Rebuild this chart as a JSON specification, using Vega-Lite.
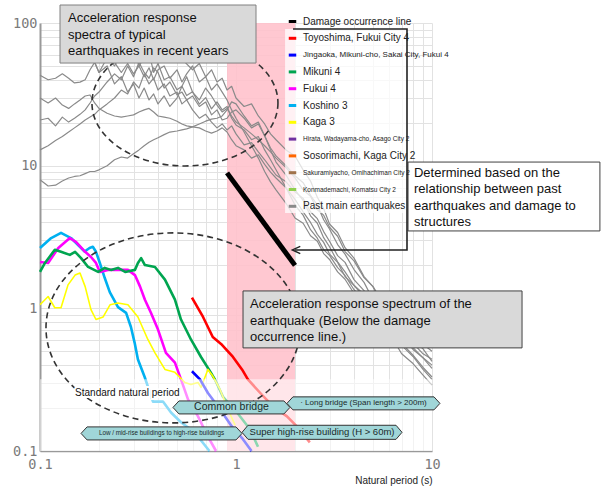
{
"$schema":"https://vega.github.io/schema/vega-lite/v6.json",
"width":392,"height":428,
"autosize":{"type":"none"},
"padding":{"left":40,"top":23,"right":169,"bottom":37},
"config":{"view":{"stroke":null},"font":"Liberation Sans"},
"datasets":{
"gray":[
{"id":1,"x":0.1,"y":43},{"id":1,"x":0.11,"y":40},{"id":1,"x":0.12,"y":41},{"id":1,"x":0.13,"y":44},{"id":1,"x":0.14,"y":41},{"id":1,"x":0.15,"y":38},{"id":1,"x":0.16,"y":38.5},{"id":1,"x":0.17,"y":40},{"id":1,"x":0.18,"y":47},{"id":1,"x":0.19,"y":53},{"id":1,"x":0.2,"y":45},{"id":1,"x":0.22,"y":57},{"id":1,"x":0.24,"y":50},{"id":1,"x":0.26,"y":62},{"id":1,"x":0.28,"y":53},{"id":1,"x":0.3,"y":67},{"id":1,"x":0.32,"y":50},{"id":1,"x":0.34,"y":57},{"id":1,"x":0.36,"y":62},{"id":1,"x":0.38,"y":45},{"id":1,"x":0.4,"y":52},{"id":1,"x":0.43,"y":40},{"id":1,"x":0.46,"y":42},{"id":1,"x":0.5,"y":34},{"id":1,"x":0.53,"y":36},{"id":1,"x":0.56,"y":31},{"id":1,"x":0.6,"y":33},{"id":1,"x":0.65,"y":27},{"id":1,"x":0.7,"y":30},{"id":1,"x":0.75,"y":25},{"id":1,"x":0.8,"y":28},{"id":1,"x":0.85,"y":24.6},{"id":1,"x":0.9,"y":26},{"id":1,"x":0.95,"y":21.5},{"id":1,"x":1.0,"y":19.3},{"id":1,"x":1.1,"y":17.8},{"id":1,"x":1.2,"y":15.2},{"id":1,"x":1.3,"y":16},{"id":1,"x":1.4,"y":12.9},{"id":1,"x":1.5,"y":11},{"id":1,"x":1.6,"y":9.35},{"id":1,"x":1.8,"y":7.0},{"id":1,"x":2.0,"y":5.8},{"id":1,"x":2.2,"y":4.75},{"id":1,"x":2.4,"y":4.0},{"id":1,"x":2.6,"y":3.3},{"id":1,"x":2.8,"y":2.9},{"id":1,"x":3.0,"y":2.4},{"id":1,"x":3.3,"y":2.1},{"id":1,"x":3.6,"y":1.67},{"id":1,"x":4.0,"y":1.45},{"id":1,"x":4.5,"y":1.2},{"id":1,"x":5.0,"y":1.05},{"id":1,"x":5.5,"y":0.89},{"id":1,"x":6.0,"y":0.81},{"id":1,"x":6.5,"y":0.71},{"id":1,"x":7.0,"y":0.64},{"id":1,"x":8.0,"y":0.515},{"id":1,"x":9.0,"y":0.45},{"id":1,"x":10,"y":0.38},
{"id":2,"x":0.1,"y":29.8},{"id":2,"x":0.11,"y":27.5},{"id":2,"x":0.12,"y":29.8},{"id":2,"x":0.13,"y":26.6},{"id":2,"x":0.14,"y":25.2},{"id":2,"x":0.15,"y":27.1},{"id":2,"x":0.16,"y":28.9},{"id":2,"x":0.17,"y":30.8},{"id":2,"x":0.18,"y":31.3},{"id":2,"x":0.19,"y":27.5},{"id":2,"x":0.2,"y":25.2},{"id":2,"x":0.22,"y":23.3},{"id":2,"x":0.24,"y":22.3},{"id":2,"x":0.26,"y":21.9},{"id":2,"x":0.28,"y":22.3},{"id":2,"x":0.3,"y":22.7},{"id":2,"x":0.32,"y":23.8},{"id":2,"x":0.34,"y":24.6},{"id":2,"x":0.36,"y":25.2},{"id":2,"x":0.38,"y":23.8},{"id":2,"x":0.4,"y":22.3},{"id":2,"x":0.43,"y":21.9},{"id":2,"x":0.46,"y":21.5},{"id":2,"x":0.5,"y":20.5},{"id":2,"x":0.53,"y":19.6},{"id":2,"x":0.56,"y":19},{"id":2,"x":0.6,"y":18.7},{"id":2,"x":0.65,"y":18.4},{"id":2,"x":0.7,"y":17.5},{"id":2,"x":0.75,"y":16.9},{"id":2,"x":0.8,"y":17.5},{"id":2,"x":0.85,"y":18.4},{"id":2,"x":0.9,"y":17.2},{"id":2,"x":0.95,"y":15.2},{"id":2,"x":1.0,"y":13.8},{"id":2,"x":1.1,"y":12.9},{"id":2,"x":1.2,"y":11.3},{"id":2,"x":1.3,"y":11.9},{"id":2,"x":1.4,"y":10.2},{"id":2,"x":1.5,"y":9},{"id":2,"x":1.6,"y":8.2},{"id":2,"x":1.8,"y":7.0},{"id":2,"x":2.0,"y":5.3},{"id":2,"x":2.2,"y":4.5},{"id":2,"x":2.4,"y":3.56},{"id":2,"x":2.6,"y":3.1},{"id":2,"x":2.8,"y":2.58},{"id":2,"x":3.0,"y":2.35},{"id":2,"x":3.3,"y":1.93},{"id":2,"x":3.6,"y":1.7},{"id":2,"x":4.0,"y":1.35},{"id":2,"x":4.5,"y":1.14},{"id":2,"x":5.0,"y":0.95},{"id":2,"x":5.5,"y":0.86},{"id":2,"x":6.0,"y":0.73},{"id":2,"x":6.5,"y":0.68},{"id":2,"x":7.0,"y":0.605},{"id":2,"x":8.0,"y":0.53},{"id":2,"x":9.0,"y":0.45},{"id":2,"x":10,"y":0.4},
{"id":3,"x":0.1,"y":20.9},{"id":3,"x":0.11,"y":21.5},{"id":3,"x":0.12,"y":19},{"id":3,"x":0.13,"y":21.9},{"id":3,"x":0.14,"y":20.2},{"id":3,"x":0.15,"y":21.5},{"id":3,"x":0.16,"y":22.9},{"id":3,"x":0.17,"y":24.6},{"id":3,"x":0.18,"y":27.5},{"id":3,"x":0.19,"y":30.8},{"id":3,"x":0.2,"y":32.8},{"id":3,"x":0.22,"y":38.6},{"id":3,"x":0.24,"y":44},{"id":3,"x":0.26,"y":40},{"id":3,"x":0.28,"y":50},{"id":3,"x":0.3,"y":42},{"id":3,"x":0.32,"y":53},{"id":3,"x":0.34,"y":45},{"id":3,"x":0.36,"y":41},{"id":3,"x":0.38,"y":48.5},{"id":3,"x":0.4,"y":45},{"id":3,"x":0.43,"y":35},{"id":3,"x":0.46,"y":38.6},{"id":3,"x":0.5,"y":31.3},{"id":3,"x":0.53,"y":32.8},{"id":3,"x":0.56,"y":28.9},{"id":3,"x":0.6,"y":30.8},{"id":3,"x":0.65,"y":26},{"id":3,"x":0.7,"y":27.9},{"id":3,"x":0.75,"y":22.7},{"id":3,"x":0.8,"y":24.6},{"id":3,"x":0.85,"y":20.9},{"id":3,"x":0.9,"y":21.5},{"id":3,"x":0.95,"y":23.8},{"id":3,"x":1.0,"y":24.6},{"id":3,"x":1.1,"y":21.5},{"id":3,"x":1.2,"y":18.4},{"id":3,"x":1.3,"y":19.6},{"id":3,"x":1.4,"y":16.2},{"id":3,"x":1.5,"y":13.3},{"id":3,"x":1.6,"y":11.7},{"id":3,"x":1.8,"y":10},{"id":3,"x":2.0,"y":8.5},{"id":3,"x":2.2,"y":7.6},{"id":3,"x":2.4,"y":6.2},{"id":3,"x":2.6,"y":5.3},{"id":3,"x":2.8,"y":4.18},{"id":3,"x":3.0,"y":3.6},{"id":3,"x":3.3,"y":2.8},{"id":3,"x":3.6,"y":2.4},{"id":3,"x":4.0,"y":1.87},{"id":3,"x":4.5,"y":1.52},{"id":3,"x":5.0,"y":1.15},{"id":3,"x":5.5,"y":1.0},{"id":3,"x":6.0,"y":0.81},{"id":3,"x":6.5,"y":0.74},{"id":3,"x":7.0,"y":0.64},{"id":3,"x":8.0,"y":0.57},{"id":3,"x":9.0,"y":0.48},{"id":3,"x":10,"y":0.44},
{"id":4,"x":0.1,"y":12.9},{"id":4,"x":0.11,"y":13.8},{"id":4,"x":0.12,"y":15},{"id":4,"x":0.13,"y":16},{"id":4,"x":0.14,"y":17.2},{"id":4,"x":0.15,"y":18.4},{"id":4,"x":0.16,"y":19.6},{"id":4,"x":0.17,"y":20.9},{"id":4,"x":0.18,"y":21.9},{"id":4,"x":0.19,"y":22.9},{"id":4,"x":0.2,"y":24.6},{"id":4,"x":0.22,"y":27.1},{"id":4,"x":0.24,"y":29.8},{"id":4,"x":0.26,"y":33.9},{"id":4,"x":0.28,"y":31.8},{"id":4,"x":0.3,"y":38.6},{"id":4,"x":0.32,"y":35},{"id":4,"x":0.34,"y":44},{"id":4,"x":0.36,"y":37.4},{"id":4,"x":0.38,"y":41},{"id":4,"x":0.4,"y":33.9},{"id":4,"x":0.43,"y":37.4},{"id":4,"x":0.46,"y":30.8},{"id":4,"x":0.5,"y":32.8},{"id":4,"x":0.53,"y":27.1},{"id":4,"x":0.56,"y":28.9},{"id":4,"x":0.6,"y":24.6},{"id":4,"x":0.65,"y":21.5},{"id":4,"x":0.7,"y":22.9},{"id":4,"x":0.75,"y":20.2},{"id":4,"x":0.8,"y":18.4},{"id":4,"x":0.85,"y":19.6},{"id":4,"x":0.9,"y":17.8},{"id":4,"x":0.95,"y":19},{"id":4,"x":1.0,"y":16.7},{"id":4,"x":1.1,"y":14},{"id":4,"x":1.2,"y":14.5},{"id":4,"x":1.3,"y":12.5},{"id":4,"x":1.4,"y":11},{"id":4,"x":1.5,"y":9.7},{"id":4,"x":1.6,"y":8.6},{"id":4,"x":1.8,"y":7.7},{"id":4,"x":2.0,"y":6.55},{"id":4,"x":2.2,"y":5.9},{"id":4,"x":2.4,"y":4.75},{"id":4,"x":2.6,"y":4.25},{"id":4,"x":2.8,"y":3.45},{"id":4,"x":3.0,"y":2.95},{"id":4,"x":3.3,"y":2.34},{"id":4,"x":3.6,"y":2.1},{"id":4,"x":4.0,"y":1.59},{"id":4,"x":4.5,"y":1.33},{"id":4,"x":5.0,"y":1.04},{"id":4,"x":5.5,"y":0.93},{"id":4,"x":6.0,"y":0.76},{"id":4,"x":6.5,"y":0.67},{"id":4,"x":7.0,"y":0.57},{"id":4,"x":8.0,"y":0.47},{"id":4,"x":9.0,"y":0.385},{"id":4,"x":10,"y":0.33},
{"id":5,"x":0.1,"y":7.96},{"id":5,"x":0.11,"y":7.2},{"id":5,"x":0.12,"y":7.3},{"id":5,"x":0.13,"y":7.8},{"id":5,"x":0.14,"y":8.2},{"id":5,"x":0.15,"y":8.4},{"id":5,"x":0.16,"y":8.5},{"id":5,"x":0.17,"y":8.8},{"id":5,"x":0.18,"y":9.1},{"id":5,"x":0.19,"y":9.1},{"id":5,"x":0.2,"y":9.35},{"id":5,"x":0.22,"y":10},{"id":5,"x":0.24,"y":11},{"id":5,"x":0.26,"y":11.5},{"id":5,"x":0.28,"y":11.3},{"id":5,"x":0.3,"y":12.1},{"id":5,"x":0.32,"y":12.9},{"id":5,"x":0.34,"y":13.8},{"id":5,"x":0.36,"y":14.6},{"id":5,"x":0.38,"y":15.2},{"id":5,"x":0.4,"y":15.7},{"id":5,"x":0.43,"y":16.5},{"id":5,"x":0.46,"y":17.2},{"id":5,"x":0.5,"y":17.5},{"id":5,"x":0.53,"y":17.8},{"id":5,"x":0.56,"y":18.1},{"id":5,"x":0.6,"y":18.7},{"id":5,"x":0.65,"y":19.6},{"id":5,"x":0.7,"y":20.5},{"id":5,"x":0.75,"y":21.2},{"id":5,"x":0.8,"y":21.5},{"id":5,"x":0.85,"y":22.3},{"id":5,"x":0.9,"y":24.6},{"id":5,"x":0.95,"y":28},{"id":5,"x":1.0,"y":27.1},{"id":5,"x":1.1,"y":22.3},{"id":5,"x":1.2,"y":19},{"id":5,"x":1.3,"y":20.2},{"id":5,"x":1.4,"y":16.2},{"id":5,"x":1.5,"y":12.9},{"id":5,"x":1.6,"y":10.6},{"id":5,"x":1.8,"y":8.6},{"id":5,"x":2.0,"y":6.77},{"id":5,"x":2.2,"y":5.7},{"id":5,"x":2.4,"y":4.45},{"id":5,"x":2.6,"y":3.95},{"id":5,"x":2.8,"y":3.13},{"id":5,"x":3.0,"y":2.7},{"id":5,"x":3.3,"y":2.12},{"id":5,"x":3.6,"y":1.8},{"id":5,"x":4.0,"y":1.45},{"id":5,"x":4.5,"y":1.25},{"id":5,"x":5.0,"y":0.98},{"id":5,"x":5.5,"y":0.87},{"id":5,"x":6.0,"y":0.71},{"id":5,"x":6.5,"y":0.64},{"id":5,"x":7.0,"y":0.55},{"id":5,"x":8.0,"y":0.46},{"id":5,"x":9.0,"y":0.373},{"id":5,"x":10,"y":0.318},
{"id":6,"x":0.19,"y":53},{"id":6,"x":0.2,"y":45},{"id":6,"x":0.22,"y":50},{"id":6,"x":0.24,"y":37.4},{"id":6,"x":0.26,"y":42},{"id":6,"x":0.28,"y":32.8},{"id":6,"x":0.3,"y":37.4},{"id":6,"x":0.32,"y":29.8},{"id":6,"x":0.34,"y":35},{"id":6,"x":0.36,"y":28.9},{"id":6,"x":0.38,"y":31.8},{"id":6,"x":0.4,"y":27.1},{"id":6,"x":0.43,"y":30.8},{"id":6,"x":0.46,"y":26},{"id":6,"x":0.5,"y":29.8},{"id":6,"x":0.53,"y":36},{"id":6,"x":0.56,"y":42},{"id":6,"x":0.6,"y":32.8},{"id":6,"x":0.65,"y":28.9},{"id":6,"x":0.7,"y":35},{"id":6,"x":0.75,"y":30.8},{"id":6,"x":0.8,"y":26.6},{"id":6,"x":0.85,"y":23.8},{"id":6,"x":0.9,"y":25.2},{"id":6,"x":0.95,"y":22.3},{"id":6,"x":1.0,"y":20.2},{"id":6,"x":1.1,"y":18.4},{"id":6,"x":1.2,"y":16.7},{"id":6,"x":1.3,"y":15.2},{"id":6,"x":1.4,"y":13.8},{"id":6,"x":1.5,"y":12.5},{"id":6,"x":1.6,"y":11.3},{"id":6,"x":1.8,"y":9.7},{"id":6,"x":2.0,"y":8.2},{"id":6,"x":2.2,"y":6.77},{"id":6,"x":2.4,"y":6.1},{"id":6,"x":2.6,"y":4.91},{"id":6,"x":2.8,"y":4.5},{"id":6,"x":3.0,"y":3.7},{"id":6,"x":3.3,"y":3.2},{"id":6,"x":3.6,"y":2.5},{"id":6,"x":4.0,"y":2.15},{"id":6,"x":4.5,"y":1.64},{"id":6,"x":5.0,"y":1.42},{"id":6,"x":5.5,"y":1.15},{"id":6,"x":6.0,"y":1.03},{"id":6,"x":6.5,"y":0.86},{"id":6,"x":7.0,"y":0.79},{"id":6,"x":8.0,"y":0.62},{"id":6,"x":9.0,"y":0.56},{"id":6,"x":10,"y":0.5},
{"id":7,"x":0.24,"y":53},{"id":7,"x":0.26,"y":45},{"id":7,"x":0.28,"y":52},{"id":7,"x":0.3,"y":44},{"id":7,"x":0.32,"y":50},{"id":7,"x":0.34,"y":42},{"id":7,"x":0.36,"y":48.5},{"id":7,"x":0.38,"y":40},{"id":7,"x":0.4,"y":47},{"id":7,"x":0.43,"y":50},{"id":7,"x":0.46,"y":41},{"id":7,"x":0.5,"y":47},{"id":7,"x":0.53,"y":38.6},{"id":7,"x":0.56,"y":44},{"id":7,"x":0.6,"y":50},{"id":7,"x":0.65,"y":38.6},{"id":7,"x":0.7,"y":42},{"id":7,"x":0.75,"y":33.9},{"id":7,"x":0.8,"y":37.4},{"id":7,"x":0.85,"y":32.8},{"id":7,"x":0.9,"y":28.9},{"id":7,"x":0.95,"y":24.6},{"id":7,"x":1.0,"y":21.5},{"id":7,"x":1.1,"y":17.2},{"id":7,"x":1.2,"y":13.8},{"id":7,"x":1.3,"y":11.3},{"id":7,"x":1.4,"y":9.1},{"id":7,"x":1.5,"y":7.7},{"id":7,"x":1.6,"y":6.77},{"id":7,"x":1.8,"y":5.45},{"id":7,"x":2.0,"y":4.3},{"id":7,"x":2.2,"y":3.95},{"id":7,"x":2.4,"y":3.23},{"id":7,"x":2.6,"y":2.95},{"id":7,"x":2.8,"y":2.42},{"id":7,"x":3.0,"y":2.2},{"id":7,"x":3.3,"y":1.8},{"id":7,"x":3.6,"y":1.6},{"id":7,"x":4.0,"y":1.27},{"id":7,"x":4.5,"y":1.09},{"id":7,"x":5.0,"y":0.86},{"id":7,"x":5.5,"y":0.76},{"id":7,"x":6.0,"y":0.62},{"id":7,"x":6.5,"y":0.57},{"id":7,"x":7.0,"y":0.48},{"id":7,"x":8.0,"y":0.41},{"id":7,"x":9.0,"y":0.34},{"id":7,"x":10,"y":0.29},
{"id":8,"x":0.55,"y":53},{"id":8,"x":0.6,"y":47},{"id":8,"x":0.65,"y":52},{"id":8,"x":0.7,"y":42},{"id":8,"x":0.75,"y":47},{"id":8,"x":0.8,"y":38.6},{"id":8,"x":0.85,"y":41},{"id":8,"x":0.9,"y":33.9},{"id":8,"x":0.95,"y":36},{"id":8,"x":1.0,"y":29.8},{"id":8,"x":1.1,"y":26},{"id":8,"x":1.2,"y":27.1},{"id":8,"x":1.3,"y":22.3},{"id":8,"x":1.4,"y":19.6},{"id":8,"x":1.5,"y":16.7},{"id":8,"x":1.6,"y":15.2},{"id":8,"x":1.8,"y":12.9},{"id":8,"x":2.0,"y":11.7},{"id":8,"x":2.2,"y":9.35},{"id":8,"x":2.4,"y":7.8},{"id":8,"x":2.6,"y":6},{"id":8,"x":2.8,"y":5.0},{"id":8,"x":3.0,"y":3.9},{"id":8,"x":3.3,"y":3.4},{"id":8,"x":3.6,"y":2.66},{"id":8,"x":4.0,"y":2.25},{"id":8,"x":4.5,"y":1.67},{"id":8,"x":5.0,"y":1.42},{"id":8,"x":5.5,"y":1.1},{"id":8,"x":6.0,"y":0.99},{"id":8,"x":6.5,"y":0.81},{"id":8,"x":7.0,"y":0.74},{"id":8,"x":8.0,"y":0.59},{"id":8,"x":9.0,"y":0.52},{"id":8,"x":10,"y":0.425}
],
"colored":[
{"s":"Koshino 3","x":0.1,"y":2.65},{"s":"Koshino 3","x":0.114,"y":3.11},{"s":"Koshino 3","x":0.128,"y":3.38},{"s":"Koshino 3","x":0.144,"y":3.11},{"s":"Koshino 3","x":0.169,"y":2.5},{"s":"Koshino 3","x":0.179,"y":2.65},{"s":"Koshino 3","x":0.186,"y":2.7},{"s":"Koshino 3","x":0.193,"y":2.49},{"s":"Koshino 3","x":0.202,"y":2.08},{"s":"Koshino 3","x":0.214,"y":1.63},{"s":"Koshino 3","x":0.227,"y":1.3},{"s":"Koshino 3","x":0.25,"y":1.02},{"s":"Koshino 3","x":0.275,"y":0.93},{"s":"Koshino 3","x":0.291,"y":0.74},{"s":"Koshino 3","x":0.304,"y":0.573},{"s":"Koshino 3","x":0.316,"y":0.438},{"s":"Koshino 3","x":0.342,"y":0.33},{"s":"Koshino 3","x":0.377,"y":0.222},{"s":"Koshino 3","x":0.424,"y":0.222},{"s":"Koshino 3","x":0.466,"y":0.186},{"s":"Koshino 3","x":0.524,"y":0.159},{"s":"Koshino 3","x":0.615,"y":0.135},{"s":"Koshino 3","x":0.732,"y":0.1},
{"s":"Fukui 4","x":0.1,"y":2.11},{"s":"Fukui 4","x":0.11,"y":2.08},{"s":"Fukui 4","x":0.124,"y":2.65},{"s":"Fukui 4","x":0.142,"y":3.11},{"s":"Fukui 4","x":0.153,"y":2.91},{"s":"Fukui 4","x":0.17,"y":2.49},{"s":"Fukui 4","x":0.182,"y":2.29},{"s":"Fukui 4","x":0.193,"y":2.08},{"s":"Fukui 4","x":0.202,"y":1.8},{"s":"Fukui 4","x":0.222,"y":1.86},{"s":"Fukui 4","x":0.25,"y":1.86},{"s":"Fukui 4","x":0.281,"y":1.86},{"s":"Fukui 4","x":0.305,"y":1.71},{"s":"Fukui 4","x":0.324,"y":1.42},{"s":"Fukui 4","x":0.343,"y":1.15},{"s":"Fukui 4","x":0.368,"y":0.93},{"s":"Fukui 4","x":0.4,"y":0.71},{"s":"Fukui 4","x":0.439,"y":0.487},{"s":"Fukui 4","x":0.488,"y":0.416},{"s":"Fukui 4","x":0.524,"y":0.318},{"s":"Fukui 4","x":0.569,"y":0.23},{"s":"Fukui 4","x":0.64,"y":0.175},{"s":"Fukui 4","x":0.719,"y":0.126},{"s":"Fukui 4","x":0.791,"y":0.1},
{"s":"Mikuni 4","x":0.1,"y":1.8},{"s":"Mikuni 4","x":0.106,"y":2.08},{"s":"Mikuni 4","x":0.119,"y":2.57},{"s":"Mikuni 4","x":0.128,"y":2.49},{"s":"Mikuni 4","x":0.142,"y":2.37},{"s":"Mikuni 4","x":0.151,"y":2.49},{"s":"Mikuni 4","x":0.162,"y":2.25},{"s":"Mikuni 4","x":0.176,"y":1.95},{"s":"Mikuni 4","x":0.198,"y":1.8},{"s":"Mikuni 4","x":0.214,"y":1.92},{"s":"Mikuni 4","x":0.23,"y":1.86},{"s":"Mikuni 4","x":0.25,"y":1.92},{"s":"Mikuni 4","x":0.272,"y":1.8},{"s":"Mikuni 4","x":0.305,"y":1.86},{"s":"Mikuni 4","x":0.316,"y":2.08},{"s":"Mikuni 4","x":0.328,"y":2.25},{"s":"Mikuni 4","x":0.343,"y":2.01},{"s":"Mikuni 4","x":0.386,"y":1.95},{"s":"Mikuni 4","x":0.434,"y":1.59},{"s":"Mikuni 4","x":0.488,"y":1.15},{"s":"Mikuni 4","x":0.524,"y":0.835},{"s":"Mikuni 4","x":0.589,"y":0.605},{"s":"Mikuni 4","x":0.663,"y":0.456},{"s":"Mikuni 4","x":0.743,"y":0.356},{"s":"Mikuni 4","x":0.78,"y":0.318},{"s":"Mikuni 4","x":0.858,"y":0.24},{"s":"Mikuni 4","x":1.012,"y":0.186},{"s":"Mikuni 4","x":1.179,"y":0.142},{"s":"Mikuni 4","x":1.295,"y":0.107},
{"s":"Kaga 3","x":0.1,"y":1.06},{"s":"Kaga 3","x":0.11,"y":1.21},{"s":"Kaga 3","x":0.119,"y":1.01},{"s":"Kaga 3","x":0.128,"y":1.01},{"s":"Kaga 3","x":0.139,"y":1.46},{"s":"Kaga 3","x":0.151,"y":1.71},{"s":"Kaga 3","x":0.16,"y":1.77},{"s":"Kaga 3","x":0.17,"y":1.42},{"s":"Kaga 3","x":0.182,"y":0.98},{"s":"Kaga 3","x":0.193,"y":0.835},{"s":"Kaga 3","x":0.21,"y":0.87},{"s":"Kaga 3","x":0.228,"y":1.06},{"s":"Kaga 3","x":0.25,"y":1.09},{"s":"Kaga 3","x":0.281,"y":1.06},{"s":"Kaga 3","x":0.316,"y":0.87},{"s":"Kaga 3","x":0.355,"y":0.605},{"s":"Kaga 3","x":0.386,"y":0.487},{"s":"Kaga 3","x":0.434,"y":0.373},{"s":"Kaga 3","x":0.488,"y":0.356},{"s":"Kaga 3","x":0.549,"y":0.302},{"s":"Kaga 3","x":0.589,"y":0.292},{"s":"Kaga 3","x":0.64,"y":0.302},{"s":"Kaga 3","x":0.663,"y":0.279},{"s":"Kaga 3","x":0.719,"y":0.373},{"s":"Kaga 3","x":0.761,"y":0.335},{"s":"Kaga 3","x":0.829,"y":0.27},{"s":"Kaga 3","x":0.91,"y":0.196},{"s":"Kaga 3","x":0.99,"y":0.152},
{"s":"Toyoshima, Fukui City 4","x":0.596,"y":1.19},{"s":"Toyoshima, Fukui City 4","x":0.679,"y":0.87},{"s":"Toyoshima, Fukui City 4","x":0.761,"y":0.63},{"s":"Toyoshima, Fukui City 4","x":0.848,"y":0.555},{"s":"Toyoshima, Fukui City 4","x":0.965,"y":0.456},{"s":"Toyoshima, Fukui City 4","x":1.073,"y":0.373},{"s":"Toyoshima, Fukui City 4","x":1.15,"y":0.318},{"s":"Toyoshima, Fukui City 4","x":1.33,"y":0.255},{"s":"Toyoshima, Fukui City 4","x":1.54,"y":0.206},{"s":"Toyoshima, Fukui City 4","x":1.82,"y":0.175},{"s":"Toyoshima, Fukui City 4","x":2.05,"y":0.148},{"s":"Toyoshima, Fukui City 4","x":2.38,"y":0.115},
{"s":"Jingaoka, Mikuni-cho, Sakai City, Fukui 4","x":0.596,"y":0.362},{"s":"Jingaoka, Mikuni-cho, Sakai City, Fukui 4","x":0.655,"y":0.318},{"s":"Jingaoka, Mikuni-cho, Sakai City, Fukui 4","x":0.719,"y":0.255},{"s":"Jingaoka, Mikuni-cho, Sakai City, Fukui 4","x":0.829,"y":0.196},{"s":"Jingaoka, Mikuni-cho, Sakai City, Fukui 4","x":0.954,"y":0.148},{"s":"Jingaoka, Mikuni-cho, Sakai City, Fukui 4","x":1.085,"y":0.121},{"s":"Jingaoka, Mikuni-cho, Sakai City, Fukui 4","x":1.2,"y":0.1}
],
"damage":[{"x":0.9,"y":8.9},{"x":2.0,"y":2.0}],
"band":[{"x":0.9,"x2":2.0,"y":0.1,"y2":100}],
"fade":[{"x":0.1,"x2":10,"y":0.1,"y2":0.318}],
"legbg":[{"x":1.78,"x2":7.455,"y":90.8,"y2":4.66}],
"boxes":[{"id":1,"x":0.1265,"x2":1.265,"y":133.7,"y2":52.4},{"id":2,"x":7.545,"x2":71.9,"y":10.6,"y2":3.487},{"id":3,"x":1.086,"x2":28.8,"y":1.324,"y2":0.528}],
"notes":[{"x":0.139,"y":118.5,"text":"Acceleration response\nspectra of typical\nearthquakes in recent years"},{"x":8.09,"y":9.79,"text":"Determined based on the\nrelationship between past\nearthquakes and damage to\nstructures"},{"x":1.179,"y":1.173,"text":"Acceleration response spectrum of the\nearthquake  (Below the damage\noccurrence line.)"}],
"connector":[{"i":1,"x":1.954,"y":90.8},{"i":2,"x":7.455,"y":90.8},{"i":3,"x":7.455,"y":2.565},{"i":4,"x":1.99,"y":2.565}],
"arrow":[{"x":2.03,"y":2.565}],
"ell1":[{"x":0.549,"y":27.5}],
"ell2":[{"x":0.477,"y":0.729}],
"hex":[{"k":"c","label":"Common  bridge","x":0.948,"y":0.202},{"k":"l","label":"· Long bridge (Span length > 200m)","x":4.47,"y":0.2157},{"k":"m","label":"Low / mid-rise buildings to high-rise buildings","x":0.417,"y":0.1328},{"k":"s","label":"Super high-rise building (H > 60m)","x":2.747,"y":0.1352}],
"std":[{"x":0.151,"y":0.2555,"text":"Standard natural period"}]
},
"encoding":{
"x":{"field":"x","type":"quantitative","scale":{"type":"log","domain":[0.1,10]},
"axis":{"values":[0.1,0.2,0.3,0.4,0.5,0.6,0.7,0.8,0.9,1,2,3,4,5,6,7,8,9,10],"labelExpr":"datum.value == 0.1 ? '0.1' : datum.value == 1 ? '1' : datum.value == 10 ? '10' : ''","title":"Natural period (s)","titleAnchor":"end","titleFont":"Liberation Sans","titleFontSize":10,"titleFontWeight":"normal","titleColor":"#222","titlePadding":5,"labelFont":"DejaVu Sans Mono","labelFontSize":13.5,"labelColor":"#7a7a7a","labelPadding":6,"labelFlush":false,"labelOverlap":false,"ticks":false,"domainColor":"#999","domainWidth":1.5,"grid":true,"gridColor":"#e2e2e2"}},
"y":{"field":"y","type":"quantitative","scale":{"type":"log","domain":[0.1,100]},
"axis":{"values":[0.1,0.2,0.3,0.4,0.5,0.6,0.7,0.8,0.9,1,2,3,4,5,6,7,8,9,10,20,30,40,50,60,70,80,90,100],"labelExpr":"datum.value == 0.1 ? '0.1' : datum.value == 1 ? '1' : datum.value == 10 ? '10' : datum.value == 100 ? '100' : ''","title":null,"labelFont":"DejaVu Sans Mono","labelFontSize":13.5,"labelColor":"#7a7a7a","labelPadding":3,"labelFlush":false,"labelOverlap":false,"ticks":false,"domainColor":"#999","domainWidth":2,"grid":true,"gridColor":"#e2e2e2"}}
},
"layer":[
{"data":{"name":"band"},"mark":{"type":"rect","fill":"#ffc0cb","opacity":0.88},"encoding":{"x2":{"field":"x2"},"y2":{"field":"y2"}}},
{"data":{"name":"gray"},"mark":{"type":"line","strokeWidth":1.2,"strokeJoin":"round"},
"encoding":{"detail":{"field":"id"},"color":{"datum":"Past main earthquakes","scale":{"domain":["Damage occurrence line","Toyoshima, Fukui City 4","Jingaoka, Mikuni-cho, Sakai City, Fukui 4","Mikuni 4","Fukui 4","Koshino 3","Kaga 3","Hirata, Wadayama-cho, Asago City 2","Sosorimachi, Kaga City 2","Sakuramiyacho, Omihachiman City 2","Konmademachi, Komatsu City 2","Past main earthquakes"],"range":["#000000","#ff0000","#0000ff","#00a550","#ff00ff","#00b0f0","#ffff00","#7030a0","#ff6600","#a0724a","#92d050","#8a8a8a"]},
"legend":{"orient":"none","legendX":247,"legendY":-7,"title":null,"symbolType":"stroke","symbolSize":56,"symbolStrokeWidth":3,"labelFont":"Liberation Sans","labelFontSize":10,"labelColor":"#222","labelLimit":400,"rowPadding":3.8,"padding":0,"labelOffset":5,"encode":{"labels":{"update":{"fontSize":{"signal":"indexof(['Hirata, Wadayama-cho, Asago City 2','Sakuramiyacho, Omihachiman City 2','Konmademachi, Komatsu City 2'], datum.value) >= 0 ? 6.5 : (datum.value == 'Jingaoka, Mikuni-cho, Sakai City, Fukui 4' ? 8 : 10)"}}}}}}}},
{"data":{"name":"colored"},"mark":{"type":"line","strokeJoin":"round"},
"encoding":{"strokeWidth":{"condition":{"test":"datum.s == 'Kaga 3'","value":1.6},"value":2.6},"color":{"field":"s","type":"nominal","scale":{"domain":["Damage occurrence line","Toyoshima, Fukui City 4","Jingaoka, Mikuni-cho, Sakai City, Fukui 4","Mikuni 4","Fukui 4","Koshino 3","Kaga 3","Hirata, Wadayama-cho, Asago City 2","Sosorimachi, Kaga City 2","Sakuramiyacho, Omihachiman City 2","Konmademachi, Komatsu City 2","Past main earthquakes"],"range":["#000000","#ff0000","#0000ff","#00a550","#ff00ff","#00b0f0","#ffff00","#7030a0","#ff6600","#a0724a","#92d050","#8a8a8a"]},
"legend":{"orient":"none","legendX":247,"legendY":-7,"title":null,"symbolType":"stroke","symbolSize":56,"symbolStrokeWidth":3,"labelFont":"Liberation Sans","labelFontSize":10,"labelColor":"#222","labelLimit":400,"rowPadding":3.8,"padding":0,"labelOffset":5,"encode":{"labels":{"update":{"fontSize":{"signal":"indexof(['Hirata, Wadayama-cho, Asago City 2','Sakuramiyacho, Omihachiman City 2','Konmademachi, Komatsu City 2'], datum.value) >= 0 ? 6.5 : (datum.value == 'Jingaoka, Mikuni-cho, Sakai City, Fukui 4' ? 8 : 10)"}}}}}}}},
{"data":{"name":"damage"},"mark":{"type":"line","strokeWidth":5},
"encoding":{"color":{"datum":"Damage occurrence line","scale":{"domain":["Damage occurrence line","Toyoshima, Fukui City 4","Jingaoka, Mikuni-cho, Sakai City, Fukui 4","Mikuni 4","Fukui 4","Koshino 3","Kaga 3","Hirata, Wadayama-cho, Asago City 2","Sosorimachi, Kaga City 2","Sakuramiyacho, Omihachiman City 2","Konmademachi, Komatsu City 2","Past main earthquakes"],"range":["#000000","#ff0000","#0000ff","#00a550","#ff00ff","#00b0f0","#ffff00","#7030a0","#ff6600","#a0724a","#92d050","#8a8a8a"]},
"legend":{"orient":"none","legendX":247,"legendY":-7,"title":null,"symbolType":"stroke","symbolSize":56,"symbolStrokeWidth":3,"labelFont":"Liberation Sans","labelFontSize":10,"labelColor":"#222","labelLimit":400,"rowPadding":3.8,"padding":0,"labelOffset":5,"encode":{"labels":{"update":{"fontSize":{"signal":"indexof(['Hirata, Wadayama-cho, Asago City 2','Sakuramiyacho, Omihachiman City 2','Konmademachi, Komatsu City 2'], datum.value) >= 0 ? 6.5 : (datum.value == 'Jingaoka, Mikuni-cho, Sakai City, Fukui 4' ? 8 : 10)"}}}}}}}},
{"data":{"name":"fade"},"mark":{"type":"rect","fill":"#ffffff","opacity":0.55},"encoding":{"x2":{"field":"x2"},"y2":{"field":"y2"}}},
{"data":{"name":"legbg"},"mark":{"type":"rect","fill":"#ffffff","opacity":0.75},"encoding":{"x2":{"field":"x2"},"y2":{"field":"y2"}}},
{"data":{"name":"ell1"},"mark":{"type":"point","shape":"M1,0C1,0.374,0.552,0.677,0,0.677C-0.552,0.677,-1,0.374,-1,0C-1,-0.374,-0.552,-0.677,0,-0.677C0.552,-0.677,1,-0.374,1,0Z","size":34596,"filled":false,"stroke":"#333333","strokeWidth":1.6,"strokeDash":[6,4],"opacity":1}},
{"data":{"name":"ell2"},"mark":{"type":"point","shape":"M1,0C1,0.413,0.552,0.748,0,0.748C-0.552,0.748,-1,0.413,-1,0C-1,-0.413,-0.552,-0.748,0,-0.748C0.552,-0.748,1,-0.413,1,0Z","size":64516,"filled":false,"stroke":"#333333","strokeWidth":1.6,"strokeDash":[6,4],"opacity":1}},
{"data":{"name":"boxes"},"mark":{"type":"rect","strokeWidth":1},"encoding":{"x2":{"field":"x2"},"y2":{"field":"y2"},"fill":{"condition":{"test":"datum.id == 2","value":"#ffffff"},"value":"#d9d9d9"},"stroke":{"condition":{"test":"datum.id == 1","value":"#808080"},"value":"#404040"}}},
{"data":{"name":"notes"},"mark":{"type":"text","align":"left","baseline":"top","lineBreak":"\n","fontSize":13,"lineHeight":16.4,"font":"Liberation Sans","color":"#111"},"encoding":{"text":{"field":"text"}}},
{"data":{"name":"connector"},"mark":{"type":"line","color":"#222","strokeWidth":1.6},"encoding":{"order":{"field":"i"}}},
{"data":{"name":"arrow"},"mark":{"type":"point","shape":"M1,-0.9L-1,0L1,0.9","size":64,"filled":false,"stroke":"#222","strokeWidth":1.4,"opacity":1}},
{"data":{"name":"hex"},"mark":{"type":"point","filled":true,"fill":"#a0d6d8","stroke":"#333333","strokeWidth":1,"opacity":1},
"encoding":{"shape":{"condition":[{"test":"datum.k == 'c'","value":"M-1,0L-0.897,-0.111L0.897,-0.111L1,0L0.897,0.111L-0.897,0.111Z"},{"test":"datum.k == 'l'","value":"M-1,0L-0.922,-0.085L0.922,-0.085L1,0L0.922,0.085L-0.922,0.085Z"},{"test":"datum.k == 'm'","value":"M-1,0L-0.925,-0.081L0.925,-0.081L1,0L0.925,0.081L-0.925,0.081Z"}],"value":"M-1,0L-0.925,-0.088L0.925,-0.088L1,0L0.925,0.088L-0.925,0.088Z"},
"size":{"condition":[{"test":"datum.k == 'c'","value":13689},{"test":"datum.k == 'l'","value":23409},{"test":"datum.k == 'm'","value":25921}],"value":25600}}},
{"data":{"name":"hex"},"mark":{"type":"text","align":"center","baseline":"middle","font":"Liberation Sans","color":"#1a2a2a"},
"encoding":{"text":{"field":"label"},"size":{"condition":[{"test":"datum.k == 'c'","value":10.5},{"test":"datum.k == 'l'","value":8},{"test":"datum.k == 'm'","value":6.3}],"value":9.5}}},
{"data":{"name":"std"},"mark":{"type":"text","align":"left","baseline":"middle","fontSize":10,"font":"Liberation Sans","fill":"#ffffff","stroke":"#ffffff","strokeWidth":4},"encoding":{"text":{"field":"text"}}},
{"data":{"name":"std"},"mark":{"type":"text","align":"left","baseline":"middle","fontSize":10,"font":"Liberation Sans","color":"#111"},"encoding":{"text":{"field":"text"}}}
]
}
